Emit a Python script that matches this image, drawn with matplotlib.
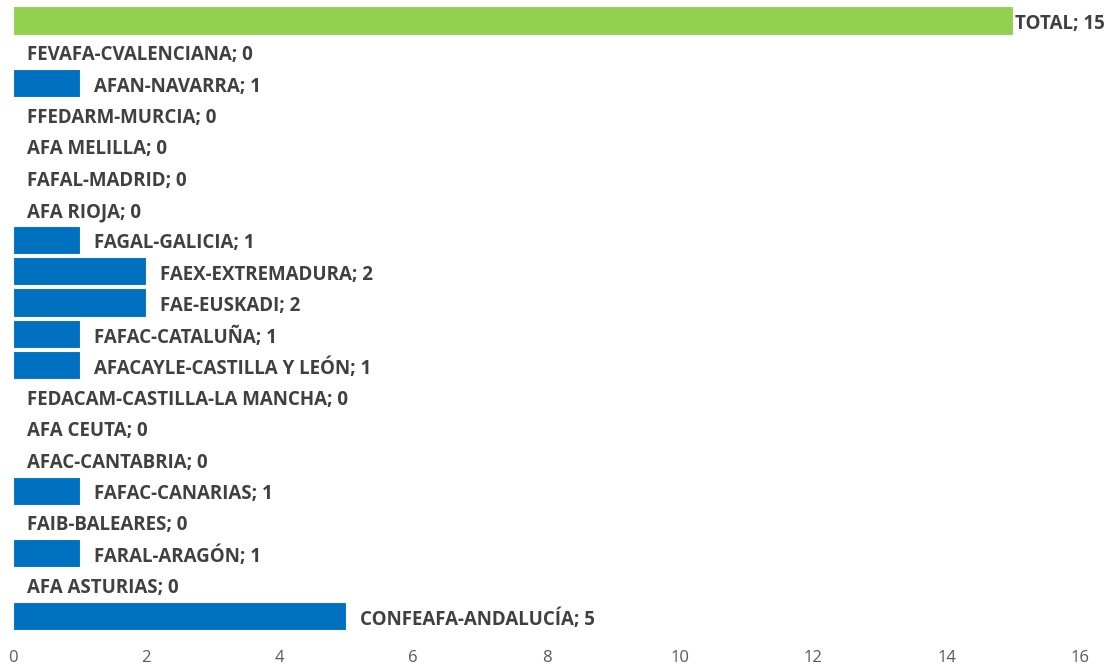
import matplotlib
matplotlib.use("Agg")
import matplotlib.pyplot as plt

categories = ["CONFEAFA-ANDALUCÍA", "AFA ASTURIAS", "FARAL-ARAGÓN", "FAIB-BALEARES",
              "FAFAC-CANARIAS", "AFAC-CANTABRIA", "AFA CEUTA", "FEDACAM-CASTILLA-LA MANCHA",
              "AFACAYLE-CASTILLA Y LEÓN", "FAFAC-CATALUÑA", "FAE-EUSKADI", "FAEX-EXTREMADURA",
              "FAGAL-GALICIA", "AFA RIOJA", "FAFAL-MADRID", "AFA MELILLA", "FFEDARM-MURCIA",
              "AFAN-NAVARRA", "FEVAFA-CVALENCIANA", "TOTAL"]
values = [5, 0, 1, 0, 1, 0, 0, 0, 1, 1, 2, 2, 1, 0, 0, 0, 0, 1, 0, 15]
xticks = [0, 2, 4, 6, 8, 10, 12, 14, 16]

plt.rcParams['font.family'] = ['Open Sans', 'DejaVu Sans']

fig = plt.figure(figsize=(11.18, 6.7), dpi=100)
ax = fig.add_axes([13/1118, (670-631.7)/670, (1080-13)/1118, (631.7-4.8)/670])

colors = ['#92D050' if c == 'TOTAL' else '#0070C0' for c in categories]
ypos = list(range(len(categories)))
ax.barh(ypos, values, height=0.9, color=colors, edgecolor='white', linewidth=0.8)

for y, c, v in zip(ypos, categories, values):
    off = 1.5 if c == 'TOTAL' else 10
    ax.annotate(f"{c}; {v}", xy=(v, y), xytext=(off, -2.5), textcoords='offset points',
                va='center', ha='left', fontsize=13.5, fontweight='bold', color='#404040',
                annotation_clip=False)

ax.set_xlim(0, 16)
ax.set_ylim(-0.5, len(categories) - 0.5)
ax.set_xticks(xticks)
ax.set_xticklabels([str(t) for t in xticks], fontsize=12, color='#595959')
ax.set_yticks([])
for s in ax.spines.values():
    s.set_visible(False)
ax.tick_params(axis='x', length=0, pad=13)

fig.savefig("out.png", dpi=100)
